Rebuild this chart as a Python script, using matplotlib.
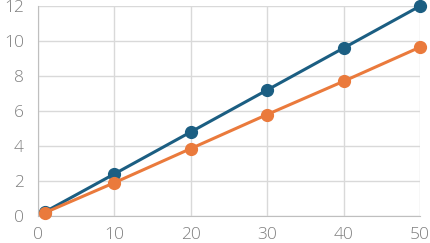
import matplotlib
matplotlib.use("Agg")
import matplotlib.pyplot as plt

x = [1, 10, 20, 30, 40, 50]
blue = [0.25, 2.4, 4.8, 7.2, 9.6, 12.0]
orange = [0.2, 1.9, 3.85, 5.8, 7.7, 9.65]
xticks = [0, 10, 20, 30, 40, 50]
yticks = [0, 2, 4, 6, 8, 10, 12]

plt.rcParams['font.family'] = ['Open Sans', 'DejaVu Sans']
fig = plt.figure(figsize=(4.3, 2.43), dpi=100)
ax = fig.add_axes([0.0877, 0.111, 0.889, 0.864])
ax.plot(x, blue, color="#1b5e82", lw=2.2, marker="o", ms=8.5, zorder=3, clip_on=False)
ax.plot(x, orange, color="#ea7a3c", lw=2.2, marker="o", ms=8.5, zorder=3, clip_on=False)
ax.set_xlim(0, 50); ax.set_ylim(0, 12)
ax.set_xticks(xticks); ax.set_yticks(yticks)
ax.grid(color="#d9d9d9", lw=1)
ax.set_axisbelow(True)
for s in ("top", "right"):
    ax.spines[s].set_visible(False)
for s in ("left", "bottom"):
    ax.spines[s].set_color("#bfbfbf")
ax.tick_params(length=0, labelsize=12.5, labelcolor="#7f7f7f")
ax.tick_params(axis="x", pad=8)
ax.tick_params(axis="y", pad=10)
for lab in ax.get_xticklabels() + ax.get_yticklabels():
    lab.set_fontweight("light")
fig.savefig("out.png", dpi=100)
